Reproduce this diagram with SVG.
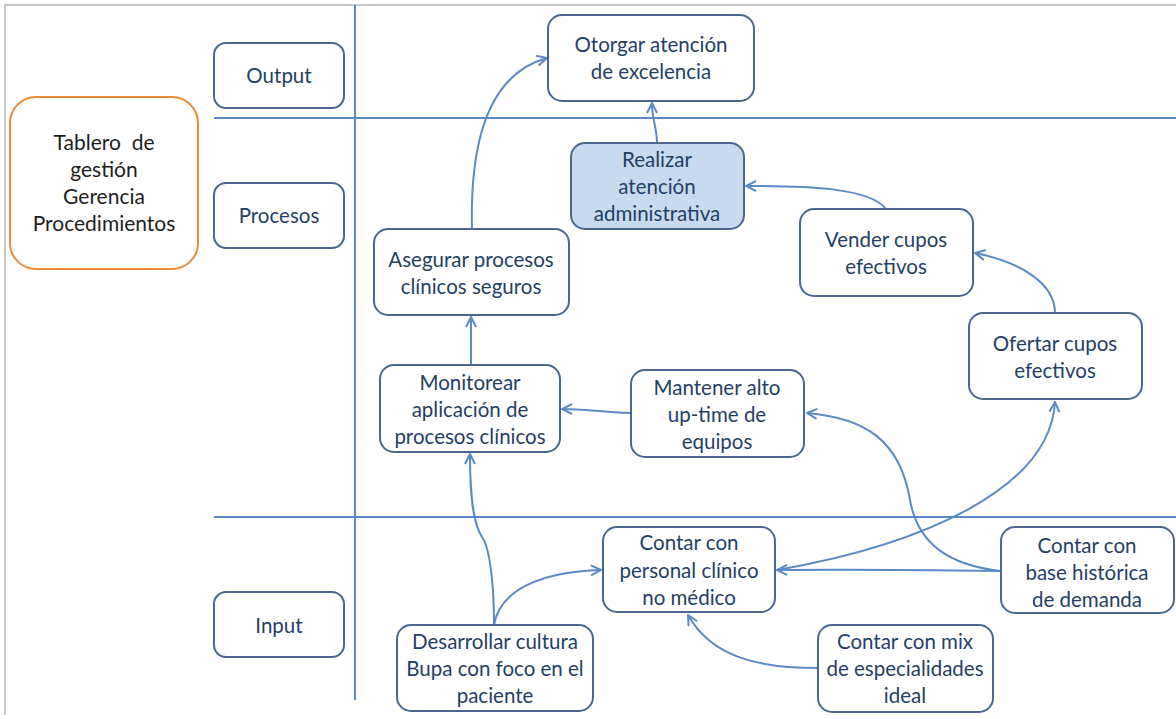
<svg xmlns="http://www.w3.org/2000/svg" width="1176" height="719" viewBox="0 0 1176 719">
  <style>
    .frame { stroke: #c8c8c8; stroke-width: 2; fill: none; }
    .lane { stroke: #5b8ac6; stroke-width: 2; fill: none; }
    .node rect { fill: #ffffff; stroke: #4a6790; stroke-width: 2; }
    .node.hl rect { fill: #c9d9ee; }
    .node text, .label text { font-family: Lato, "Open Sans", sans-serif; font-size: 20.5px; fill: #243f66; text-anchor: middle; }
    .label rect { fill: #ffffff; stroke: #4a6790; stroke-width: 2; }
    .title rect { fill: #ffffff; stroke: #ed8a3a; stroke-width: 2; }
    .title text { font-family: Lato, "Open Sans", sans-serif; font-size: 21px; fill: #1e1e1e; text-anchor: middle; }
    .edge { stroke: #5b8ac6; stroke-width: 2; fill: none; marker-end: url(#open); }
  </style>
  <defs>
    <marker id="open" viewBox="0 0 12 12" refX="11" refY="6" markerWidth="12" markerHeight="12" markerUnits="userSpaceOnUse" orient="auto">
      <path d="M1,1 L11,6 L1,11" fill="none" stroke="#5b8ac6" stroke-width="2"/>
    </marker>
  </defs>
  <rect width="1176" height="719" fill="#ffffff"/>

  <!-- page frame -->
  <path class="frame" d="M5,715 V5 H1176"/>

  <!-- swimlane grid -->
  <g id="grid">
    <line class="lane" x1="355" y1="5" x2="355" y2="700"/>
    <line class="lane" x1="214" y1="118" x2="1176" y2="118"/>
    <line class="lane" x1="214" y1="517" x2="1176" y2="517"/>
  </g>

  <!-- title -->
  <g id="tablero" class="title">
    <rect x="10" y="97" width="188" height="172" rx="26"/>
    <text x="104" y="150" xml:space="preserve">Tablero  de</text>
    <text x="104" y="177">gestión</text>
    <text x="104" y="204">Gerencia</text>
    <text x="104" y="231">Procedimientos</text>
  </g>

  <!-- lane labels -->
  <g id="lbl-output" class="label">
    <rect x="214" y="43" width="130" height="65" rx="12"/>
    <text x="279" y="83">Output</text>
  </g>
  <g id="lbl-procesos" class="label">
    <rect x="214" y="183" width="130" height="65" rx="12"/>
    <text x="279" y="223">Procesos</text>
  </g>
  <g id="lbl-input" class="label">
    <rect x="214" y="592" width="130" height="65" rx="12"/>
    <text x="279" y="633">Input</text>
  </g>

  <!-- connectors -->
  <g id="connectors">
    <path class="edge" d="M472,229 C470,150 485,75 547,58"/>
    <path class="edge" d="M657,143 C657,128 652,120 652,103"/>
    <path class="edge" d="M886,209 C870,188 810,186 746,186"/>
    <path class="edge" d="M1055,313 C1055,283 1020,262 975,253"/>
    <path class="edge" d="M471,365 L471,317"/>
    <path class="edge" d="M630,413 C600,412 585,409 562,409"/>
    <path class="edge" d="M494,625 C494,585 490,548 482,537 C472,522 470,490 470,454"/>
    <path class="edge" d="M494,625 C500,590 540,572 601,570"/>
    <path class="edge" d="M1001,571 C930,570 860,569 777,570"/>
    <path class="edge" d="M1000,571 C950,565 918,545 910,500 C900,440 865,418 807,413"/>
    <path class="edge" d="M777,570 C920,545 1050,490 1055,402"/>
    <path class="edge" d="M818,668 C760,668 712,658 688,615"/>
  </g>

  <!-- nodes -->
  <g id="otorgar" class="node">
    <rect x="548" y="15" width="206" height="86" rx="14"/>
    <text x="651" y="52">Otorgar atención</text>
    <text x="651" y="79">de excelencia</text>
  </g>
  <g id="realizar" class="node hl">
    <rect x="571" y="143" width="173" height="86" rx="14"/>
    <text x="657" y="167">Realizar</text>
    <text x="657" y="194">atención</text>
    <text x="657" y="221">administrativa</text>
  </g>
  <g id="vender" class="node">
    <rect x="800" y="209" width="173" height="87" rx="14"/>
    <text x="886" y="247">Vender cupos</text>
    <text x="886" y="274">efectivos</text>
  </g>
  <g id="ofertar" class="node">
    <rect x="969" y="313" width="173" height="86" rx="14"/>
    <text x="1055" y="351">Ofertar cupos</text>
    <text x="1055" y="378">efectivos</text>
  </g>
  <g id="asegurar" class="node">
    <rect x="374" y="229" width="195" height="86" rx="14"/>
    <text x="471" y="267">Asegurar procesos</text>
    <text x="471" y="294">clínicos seguros</text>
  </g>
  <g id="monitorear" class="node">
    <rect x="380" y="365" width="180" height="87" rx="14"/>
    <text x="470" y="390">Monitorear</text>
    <text x="470" y="417">aplicación de</text>
    <text x="470" y="444">procesos clínicos</text>
  </g>
  <g id="mantener" class="node">
    <rect x="631" y="370" width="173" height="87" rx="14"/>
    <text x="717" y="395">Mantener alto</text>
    <text x="717" y="422">up-time de</text>
    <text x="717" y="449">equipos</text>
  </g>
  <g id="personal" class="node">
    <rect x="603" y="527" width="172" height="85" rx="14"/>
    <text x="689" y="550">Contar con</text>
    <text x="689" y="578">personal clínico</text>
    <text x="689" y="605">no médico</text>
  </g>
  <g id="desarrollar" class="node">
    <rect x="397" y="625" width="196" height="86" rx="14"/>
    <text x="495" y="649">Desarrollar cultura</text>
    <text x="495" y="676">Bupa con foco en el</text>
    <text x="495" y="703">paciente</text>
  </g>
  <g id="base" class="node">
    <rect x="1001" y="527" width="173" height="86" rx="14"/>
    <text x="1087" y="553">Contar con</text>
    <text x="1087" y="580">base histórica</text>
    <text x="1087" y="607">de demanda</text>
  </g>
  <g id="mix" class="node">
    <rect x="818" y="625" width="175" height="87" rx="14"/>
    <text x="905" y="649">Contar con mix</text>
    <text x="905" y="676">de especialidades</text>
    <text x="905" y="703">ideal</text>
  </g>
</svg>
